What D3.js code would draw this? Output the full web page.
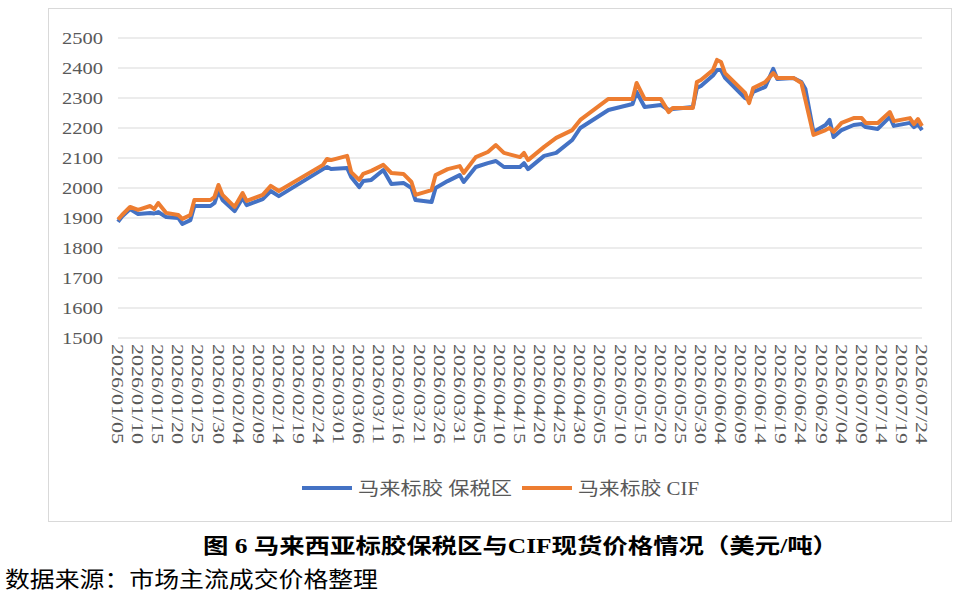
<!DOCTYPE html>
<html><head><meta charset="utf-8">
<script src="https://cdn.jsdelivr.net/npm/d3@7"></script>
<style>body{margin:0;background:#fff;}</style>
</head><body>
<svg id="chart" width="976" height="595"></svg>
<script>
var dates = ["01/05","01/06","01/08","01/10","01/13","01/14","01/15","01/17","01/20","01/21","01/23","01/24","01/28","01/29","01/30","01/31",
  "02/03","02/05","02/06","02/10","02/12","02/14","02/25","02/26","02/27","03/03","03/04","03/06","03/07","03/09","03/12","03/14","03/17","03/19","03/20","03/24","03/25","03/28","03/31",
  "04/01","04/04","04/07","04/09","04/11","04/15","04/16","04/17","04/21","04/24","04/28","04/30","05/07","05/13","05/14","05/16","05/20","05/22","05/23","05/28","05/29","05/30",
  "06/02","06/03","06/04","06/05","06/10","06/11","06/12","06/15","06/17","06/18","06/22","06/24","06/25","06/27","06/30","07/01","07/02","07/04","07/07","07/09","07/10","07/13","07/16","07/17","07/21","07/22","07/23","07/24"];
var bonded = [1887,1905,1930,1913,1917,1915,1920,1903,1900,1880,1893,1940,1940,1950,1990,1960,
  1923,1967,1943,1963,1990,1973,2063,2070,2063,2067,2037,2003,2023,2027,2060,2013,2017,2000,1960,1953,2000,2023,2043,
  2020,2070,2083,2090,2070,2070,2083,2063,2107,2117,2160,2200,2260,2280,2320,2270,2277,2260,2263,2270,2333,2340,
  2375,2393,2393,2367,2300,2293,2320,2337,2397,2363,2367,2353,2330,2187,2210,2227,2170,2193,2210,2213,2203,2197,2237,2207,2217,2203,2213,2193];
var cif = [1895,1910,1937,1927,1940,1930,1950,1917,1910,1897,1910,1960,1960,1970,2010,1977,
  1937,1983,1957,1977,2007,1990,2077,2097,2093,2107,2053,2027,2047,2057,2077,2050,2047,2020,1977,1993,2043,2063,2073,
  2050,2103,2120,2143,2117,2103,2117,2093,2137,2167,2193,2227,2297,2297,2350,2297,2297,2253,2267,2267,2353,2360,
  2393,2427,2420,2383,2317,2283,2333,2353,2383,2367,2367,2350,2293,2177,2193,2200,2187,2217,2233,2233,2217,2217,2253,2223,2233,2213,2230,2207];
var yTicks = [1500,1600,1700,1800,1900,2000,2100,2200,2300,2400,2500];
var seriesNames = ["马来标胶 保税区", "马来标胶 CIF"];
var colors = ["#4472C4", "#ED7D31"];

var parse = d3.timeParse("%Y/%m/%d");
var svg = d3.select("#chart");
var x = d3.scaleTime().domain([parse("2026/01/05"), parse("2026/07/24")]).range([118, 922]);
var y = d3.scaleLinear().domain([1500, 2500]).range([338, 38]);

svg.append("rect").attr("x", 48.5).attr("y", 8.5).attr("width", 903).attr("height", 513)
  .attr("fill", "none").attr("stroke", "#d9d9d9");

svg.append("g").selectAll("line").data(yTicks).join("line")
  .attr("x1", 118).attr("x2", 922).attr("y1", d => y(d)).attr("y2", d => y(d))
  .attr("stroke", "#d9d9d9").attr("stroke-width", 1);

svg.append("g").selectAll("text").data(yTicks).join("text")
  .attr("x", 62).attr("y", d => y(d) + 6)
  .attr("textLength", 41).attr("lengthAdjust", "spacingAndGlyphs")
  .attr("font-family", "Liberation Serif").attr("font-size", 17).attr("fill", "#595959")
  .text(d => d);

var xTicks = d3.timeDay.range(parse("2026/01/05"), d3.timeDay.offset(parse("2026/07/24"), 1), 5);
var fmt = d3.timeFormat("%Y/%m/%d");
svg.append("g").selectAll("text").data(xTicks).join("text")
  .attr("transform", d => "translate(" + (x(d) - 6) + ",344) rotate(90)")
  .attr("textLength", 100).attr("lengthAdjust", "spacingAndGlyphs")
  .attr("font-family", "Liberation Serif").attr("font-size", 17).attr("fill", "#595959")
  .text(d => fmt(d));

var line = d3.line().x(d => x(d[0])).y(d => y(d[1]));
[bonded, cif].forEach(function (vals, i) {
  var pts = dates.map((dt, j) => [parse("2026/" + dt), vals[j]]);
  svg.append("path").datum(pts).attr("d", line).attr("fill", "none")
    .attr("stroke", colors[i]).attr("stroke-width", 4).attr("stroke-linejoin", "round");
});

var legendX = [302, 522], legendW = [154, 121];
seriesNames.forEach(function (n, i) {
  svg.append("line").attr("x1", legendX[i]).attr("x2", legendX[i] + 50).attr("y1", 488).attr("y2", 488)
    .attr("stroke", colors[i]).attr("stroke-width", 4);
  svg.append("text").attr("x", legendX[i] + 56).attr("y", 495)
    .attr("textLength", legendW[i]).attr("lengthAdjust", "spacingAndGlyphs")
    .attr("font-family", "Liberation Serif, Noto Sans CJK SC").attr("font-size", 18).attr("fill", "#595959")
    .text(n);
});

svg.append("text").attr("x", 203).attr("y", 553)
  .attr("textLength", 635).attr("lengthAdjust", "spacingAndGlyphs")
  .attr("font-family", "Liberation Serif, Noto Sans CJK SC").attr("font-weight", "bold").attr("font-size", 21)
  .text("图 6    马来西亚标胶保税区与CIF现货价格情况（美元/吨）");
svg.append("text").attr("x", 5).attr("y", 587)
  .attr("textLength", 373).attr("lengthAdjust", "spacingAndGlyphs")
  .attr("font-family", "Noto Sans CJK SC").attr("font-size", 22)
  .text("数据来源：市场主流成交价格整理");
</script>
</body></html>
